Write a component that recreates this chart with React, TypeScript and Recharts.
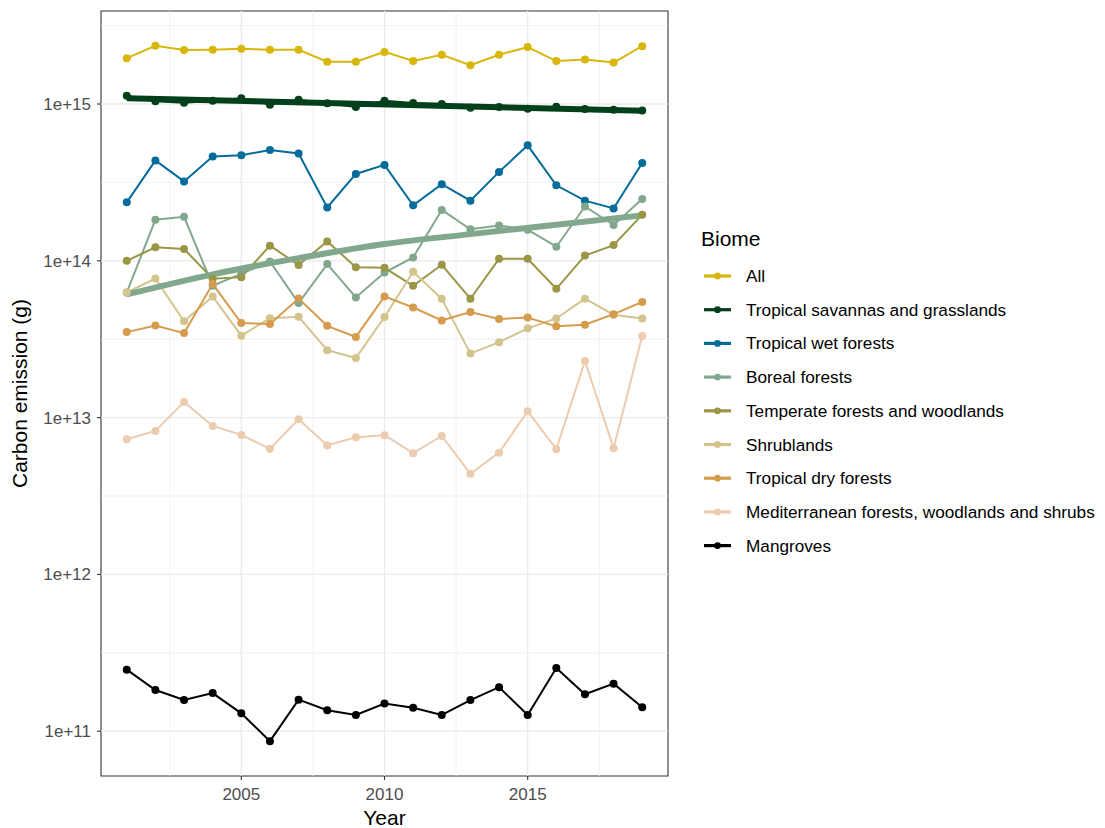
import React from "react";
import {
  LineChart,
  Line,
  XAxis,
  YAxis,
  ReferenceLine,
  ReferenceArea,
  Legend,
} from "recharts";

const FONT = '"Liberation Sans", Arial, Helvetica, sans-serif';

const years = [
  2001, 2002, 2003, 2004, 2005, 2006, 2007, 2008, 2009, 2010,
  2011, 2012, 2013, 2014, 2015, 2016, 2017, 2018, 2019,
];

// annual carbon emission per biome (g)
const allBiomes = [
  1.96e15, 2.35e15, 2.21e15, 2.22e15, 2.25e15, 2.22e15, 2.22e15, 1.86e15, 1.86e15, 2.15e15,
  1.88e15, 2.06e15, 1.77e15, 2.06e15, 2.31e15, 1.88e15, 1.92e15, 1.84e15, 2.34e15,
];
const tropSavannas = [
  1.13e15, 1.04e15, 1.02e15, 1.05e15, 1.09e15, 0.99e15, 1.065e15, 1.01e15, 0.957e15, 1.05e15,
  1.015e15, 1.0e15, 0.947e15, 0.957e15, 0.933e15, 0.96e15, 0.93e15, 0.92e15, 0.91e15,
];
const tropWet = [
  2.36e14, 4.37e14, 3.21e14, 4.62e14, 4.71e14, 5.09e14, 4.84e14, 2.19e14, 3.58e14, 4.09e14,
  2.26e14, 3.08e14, 2.42e14, 3.69e14, 5.45e14, 3.03e14, 2.42e14, 2.16e14, 4.21e14,
];
const boreal = [
  6.28e13, 1.83e14, 1.91e14, 6.93e13, 8.26e13, 9.9e13, 5.38e13, 9.53e13, 5.84e13, 8.42e13,
  1.05e14, 2.11e14, 1.59e14, 1.68e14, 1.58e14, 1.23e14, 2.22e14, 1.69e14, 2.48e14,
];
const temperate = [
  1.0e14, 1.22e14, 1.19e14, 7.68e13, 7.87e13, 1.25e14, 9.4e13, 1.33e14, 9.11e13, 9.02e13,
  6.93e13, 9.43e13, 5.73e13, 1.03e14, 1.03e14, 6.63e13, 1.08e14, 1.26e14, 1.97e14,
];
const shrublands = [
  6.28e13, 7.71e13, 4.11e13, 5.93e13, 3.33e13, 4.31e13, 4.4e13, 2.69e13, 2.4e13, 4.38e13,
  8.51e13, 5.73e13, 2.56e13, 3.03e13, 3.71e13, 4.29e13, 5.73e13, 4.53e13, 4.29e13,
];
const tropDry = [
  3.51e13, 3.87e13, 3.46e13, 7.11e13, 4.01e13, 3.95e13, 5.75e13, 3.85e13, 3.27e13, 5.93e13,
  5.04e13, 4.17e13, 4.71e13, 4.25e13, 4.35e13, 3.82e13, 3.91e13, 4.57e13, 5.46e13,
];
const mediterranean = [
  7.28e12, 8.23e12, 1.26e13, 8.85e12, 7.76e12, 6.32e12, 9.77e12, 6.64e12, 7.5e12, 7.72e12,
  5.93e12, 7.64e12, 4.38e12, 5.98e12, 1.1e13, 6.29e12, 2.3e13, 6.38e12, 3.31e13,
];
const mangroves = [
  2.47e11, 1.83e11, 1.58e11, 1.75e11, 1.3e11, 8.64e10, 1.59e11, 1.36e11, 1.27e11, 1.5e11,
  1.41e11, 1.27e11, 1.58e11, 1.91e11, 1.27e11, 2.53e11, 1.72e11, 2.01e11, 1.42e11,
];

// fitted trends for savannas and boreal forests
const savannaTrendYears = [2001, 2019];
const savannaTrendValues = [1.09e15, 0.906e15];
const borealTrendYears = [2001, 2004, 2007, 2010, 2013, 2016, 2019];
const borealTrendValues = [6.1e13, 8.2e13, 1.04e14, 1.28e14, 1.48e14, 1.7e14, 1.95e14];

const yTicks = [1e11, 1e12, 1e13, 1e14, 1e15];
const yMinor = [3.162e11, 3.162e12, 3.162e13, 3.162e14, 3.162e15];
const xTicks = [2005, 2010, 2015];
const xMinor = [2002.5, 2007.5, 2012.5, 2017.5];

const X_DOMAIN: [number, number] = [2000.1, 2019.9];
const Y_DOMAIN: [number, number] = [5.18e10, 3.92e15];

const biomes = [
  { key: "all", name: "All", color: "#D8B70A", values: allBiomes },
  { key: "savannas", name: "Tropical savannas and grasslands", color: "#02401B", values: tropSavannas },
  { key: "wet", name: "Tropical wet forests", color: "#046C9A", values: tropWet },
  { key: "boreal", name: "Boreal forests", color: "#81A88D", values: boreal },
  { key: "temperate", name: "Temperate forests and woodlands", color: "#9A9646", values: temperate },
  { key: "shrub", name: "Shrublands", color: "#D3C38D", values: shrublands },
  { key: "dry", name: "Tropical dry forests", color: "#D69C4E", values: tropDry },
  { key: "med", name: "Mediterranean forests, woodlands and shrubs", color: "#ECCBAE", values: mediterranean },
  { key: "mangroves", name: "Mangroves", color: "#000000", values: mangroves },
];

const rows = years.map((year, i) => {
  const row: Record<string, number> = { year };
  biomes.forEach((b) => (row[b.key] = b.values[i]));
  return row;
});

const savannaTrend = savannaTrendYears.map((year, i) => ({ year, value: savannaTrendValues[i] }));
const borealTrend = borealTrendYears.map((year, i) => ({ year, value: borealTrendValues[i] }));

const fmtLog = (v: number) => `1e+${Math.round(Math.log10(v))}`;

function BiomeLegend() {
  return (
    <svg width={415} height={340} style={{ display: "block", fontFamily: FONT }}>
      <text x={11} y={26} fontSize={21} fill="#000">
        Biome
      </text>
      {biomes.map((b, i) => {
        const cy = 56 + i * 33.7;
        return (
          <g key={b.key}>
            <line x1={14} x2={41} y1={cy} y2={cy} stroke={b.color} strokeWidth={3.2} />
            <circle cx={27.5} cy={cy} r={3.4} fill={b.color} />
            <text x={56} y={cy + 6} fontSize={17.2} fill="#000">
              {b.name}
            </text>
          </g>
        );
      })}
    </svg>
  );
}

export default function App() {
  return (
    <div style={{ width: 1097, height: 820, fontFamily: FONT }}>
      <LineChart
        width={1097}
        height={820}
        data={rows}
        margin={{ top: 3, right: 437, bottom: 0, left: 0 }}
      >
        <XAxis
          dataKey="year"
          type="number"
          domain={X_DOMAIN}
          allowDataOverflow
          ticks={xTicks}
          height={52}
          axisLine={false}
          tickLine={{ stroke: "#333333", strokeWidth: 1.1 }}
          tickSize={4}
          tickMargin={8}
          tick={{ fill: "#4D4D4D", fontSize: 17, fontFamily: FONT }}
          label={(props: any) => {
            const vb = props.viewBox;
            return (
              <text x={vb.x + vb.width / 2} y={vb.y + 49} textAnchor="middle" fontSize={21} fill="#000" fontFamily={FONT}>
                Year
              </text>
            );
          }}
        />
        <YAxis
          scale="log"
          domain={Y_DOMAIN}
          allowDataOverflow
          ticks={yTicks}
          tickFormatter={fmtLog}
          width={93}
          axisLine={false}
          tickLine={{ stroke: "#333333", strokeWidth: 1.1 }}
          tickSize={4}
          tickMargin={6}
          tick={{ fill: "#4D4D4D", fontSize: 17, fontFamily: FONT }}
          label={(props: any) => {
            const vb = props.viewBox;
            const cy = vb.y + vb.height / 2;
            return (
              <text x={19} y={cy} transform={`rotate(-90 19 ${cy})`} textAnchor="middle" fontSize={21} fill="#000" fontFamily={FONT}>
                Carbon emission (g)
              </text>
            );
          }}
        />

        {yMinor.map((v) => (
          <ReferenceLine key={`ym${v}`} y={v} stroke="#EEEEEE" strokeWidth={0.8} />
        ))}
        {xMinor.map((v) => (
          <ReferenceLine key={`xm${v}`} x={v} stroke="#EEEEEE" strokeWidth={0.8} />
        ))}
        {yTicks.map((v) => (
          <ReferenceLine key={`y${v}`} y={v} stroke="#EBEBEB" strokeWidth={1.3} />
        ))}
        {xTicks.map((v) => (
          <ReferenceLine key={`x${v}`} x={v} stroke="#EBEBEB" strokeWidth={1.3} />
        ))}

        {biomes.map((b) => (
          <Line
            key={`line-${b.key}`}
            dataKey={b.key}
            name={b.name}
            type="linear"
            stroke={b.color}
            strokeWidth={2}
            dot={false}
            activeDot={false}
            legendType="none"
            isAnimationActive={false}
          />
        ))}

        <Line
          data={savannaTrend}
          dataKey="value"
          type="linear"
          stroke="#02401B"
          strokeWidth={6}
          dot={false}
          activeDot={false}
          legendType="none"
          isAnimationActive={false}
        />
        <Line
          data={borealTrend}
          dataKey="value"
          type="monotone"
          stroke="#81A88D"
          strokeWidth={6}
          dot={false}
          activeDot={false}
          legendType="none"
          isAnimationActive={false}
        />

        {biomes.map((b) => (
          <Line
            key={`pts-${b.key}`}
            dataKey={b.key}
            type="linear"
            stroke="none"
            dot={{ r: 4, fill: b.color, stroke: "none" }}
            activeDot={false}
            legendType="none"
            isAnimationActive={false}
          />
        ))}

        <ReferenceArea
          x1={X_DOMAIN[0]}
          x2={X_DOMAIN[1]}
          y1={Y_DOMAIN[0]}
          y2={Y_DOMAIN[1]}
          fill="none"
          stroke="#333333"
          strokeWidth={1.1}
          ifOverflow="visible"
        />

        <Legend
          layout="vertical"
          align="center"
          verticalAlign="middle"
          wrapperStyle={{ left: 682, top: 212, width: 415, height: 340 }}
          content={() => <BiomeLegend />}
        />
      </LineChart>
    </div>
  );
}
